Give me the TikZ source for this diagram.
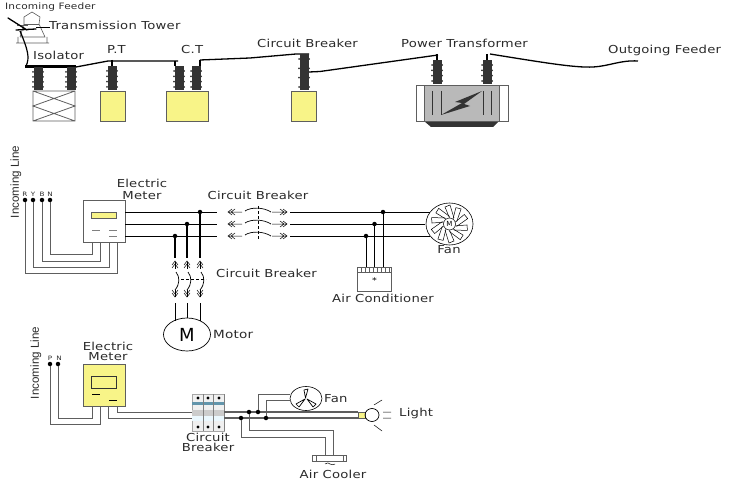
\documentclass[tikz,border=0pt]{standalone}
\usepackage{fontspec}
\usetikzlibrary{shapes.geometric}
\setmainfont[FakeStretch=1.2,LetterSpace=2]{DejaVu Sans}
\newfontfamily\plainf{DejaVu Sans}
\newfontfamily\vertf{Liberation Sans}
\definecolor{yel}{HTML}{F8F488}
\definecolor{dk}{HTML}{333333}
\definecolor{wg}{HTML}{5E5E5E}
\definecolor{txt}{HTML}{2A2A2A}
\tikzset{
 x=1pt,y=-1pt,
 lab/.style={font=\fontsize{11}{12.2}\selectfont,text=txt,inner sep=0pt,align=center},
 tightlab/.style={font=\fontsize{11}{10}\selectfont,text=txt,inner sep=0pt,align=center},
 smlab/.style={font=\fontsize{6}{7}\selectfont,text=txt,inner sep=0pt},
 vlab/.style={font=\vertf\fontsize{11.6}{12}\selectfont,text=txt,inner sep=0pt,rotate=90},
 wire/.style={draw=black,line width=1.3pt},
 gwire/.style={draw=wg,line width=1pt},
 dot/.style={circle,fill=black,inner sep=0pt,minimum size=4.5pt},
 yelbox/.style={draw=wg,fill=yel,line width=.7pt},
 thin grey/.style={draw=wg,line width=.6pt},
}
\newcommand{\insul}[3]{% x centre, y top, y bottom
 \fill[dk] (#1-4.5,#2) rectangle (#1+4.5,#3);
 \foreach \k in {0,1,2,3}{\fill[dk] (#1-5,{#2+5+\k*(#3-#2-8)/3}) circle (1) (#1+5,{#2+5+\k*(#3-#2-8)/3}) circle (1);}
}
\newcommand{\brkH}[3]{% y, x left, x right
 \draw[line width=.5pt] (#2+4,#1-3) -- (#2,#1) -- (#2+4,#1+3) (#2+7,#1-3) -- (#2+3,#1) -- (#2+7,#1+3) (#2,#1) -- (#2+14,#1);
 \draw[line width=.5pt] (#3-4,#1-3) -- (#3,#1) -- (#3-4,#1+3) (#3-7,#1-3) -- (#3-3,#1) -- (#3-7,#1+3) (#3,#1) -- (#3-15,#1);
 \draw[line width=.7pt] (#2+17,#1-1) .. controls (#2+23,#1-5) and (#2+35,#1-5) .. (#2+43,#1);
}
\newcommand{\brkV}[1]{% x
 \draw[line width=.6pt] (#1,262) -- (#1,269) (#1,290) -- (#1,297);
 \draw[line width=.5pt] (#1-3,265) -- (#1,261) -- (#1+3,265) (#1-3,268) -- (#1,264) -- (#1+3,268);
 \draw[line width=.5pt] (#1-3,293) -- (#1,297) -- (#1+3,293) (#1-3,290) -- (#1,294) -- (#1+3,290);
 \draw[line width=.7pt] (#1+1,272) .. controls (#1+5,277) and (#1+5,284) .. (#1,290);
}
\begin{document}
\begin{tikzpicture}
\useasboundingbox (0,0) rectangle (750,500);
% ---------- top section ----------
\draw[thin grey] (16,43) -- (49,43) (18,43) -- (18,37) (47,43) -- (47,37)
 (20,37) -- (24,24) -- (24,17) -- (32,12) -- (40,17) -- (39,24) -- (45,37) -- (20,37);
\draw[thin grey] (24,24) -- (39,24) (17,25) -- (28,25);
\draw[line width=1.3pt,line cap=round] (8,18) -- (27,30) (16,30) -- (36,29);
\draw[line width=1pt] (36,28) -- (50,28);
\draw[line width=1.2pt] (20,31) .. controls (28,50) and (30,58) .. (26,66);
\fill[black] (25,65.5) rectangle (76,68.5);
\insul{38}{67}{90}\insul{71}{67}{90}
\draw[thin grey,line width=.8pt] (33,91) rectangle (75,121) (33,91) -- (75,106) -- (33,121) (75,91) -- (33,106) -- (75,121);
\draw[wire] (76,67) -- (108,61) -- (178,61) (175,61) -- (175,65);
\draw[line width=2pt] (112,60) -- (112,66) (175,61) -- (175,66) (200,60) -- (200,66);
\draw[wire] (200,60) -- (250,58) -- (296,54) -- (309,54);
\insul{112}{66}{90}\insul{179}{66}{90}\insul{196}{66}{90}
\draw[yelbox] (100,91) rectangle (125,121);
\draw[yelbox] (166,91) rectangle (208,121);
\insul{304}{54}{90}
\draw[yelbox] (291,91) rectangle (316,121);
\draw[wire] (309,72) -- (320,71.5) -- (438,55);
\draw[line width=2pt] (437,54) -- (437,60) (487,54) -- (487,60);
\insul{437}{60}{84}\insul{487}{60}{84}
\draw[thin grey,fill=white] (416,85) rectangle (508,121);
\fill[dk] (424,121) -- (499,121) -- (493,127) -- (431,127) -- cycle;
\fill[gray!55!white] (424,85) rectangle (499,121);
\draw[wg,line width=.7pt] (424,85) rectangle (499,121);
\draw[dk,line width=.6pt] (432,91) -- (432,115) (441,91) -- (441,115) (483,91) -- (483,115) (491,91) -- (491,115);
\fill[dk] (482,91) -- (455,102) -- (462,103) -- (441,115) -- (470,106) -- (464,104) -- cycle;
\draw[wire] (490,54) .. controls (540,62) and (575,68) .. (593,67) .. controls (610,66) and (620,60) .. (638,61);
% labels
\node[smlab,anchor=west,font=\fontsize{8.8}{9}\selectfont] (t1) at (5,7) {Incoming Feeder};
\node[lab,anchor=west] (t2) at (49,25) {Transmission Tower};
\node[lab,anchor=west] (t3) at (33,55) {Isolator};
\node[lab,anchor=west] (t4) at (107,49) {P.T};
\node[lab,anchor=west] (t5) at (181,49) {C.T};
\node[lab,anchor=west] (t6) at (257,43) {Circuit Breaker};
\node[lab,anchor=west] (t7) at (401,43) {Power Transformer};
\node[lab,anchor=west] (t8) at (608,50) {Outgoing Feeder};
% ---------- middle section ----------
\node[vlab] (il1) at (16,182) {Incoming Line};
\node[smlab] at (25,194) {R};\node[smlab] at (33,194) {Y};\node[smlab] at (42,194) {B};\node[smlab] at (50,194) {N};
\node[dot] (r) at (25,200) {};\node[dot] (y) at (33,200) {};\node[dot] (b) at (42,200) {};\node[dot] (n) at (50,200) {};
\draw[thin grey,line width=.8pt] (83,200) rectangle (125,242);
\node[yelbox,minimum width=25pt,minimum height=6pt,inner sep=0pt,line width=.6pt] (mtr) at (104,215) {};
\draw[gray,line width=.7pt] (92,230) -- (100,230) (109,230) -- (117,230) (109,236) -- (117,236);
\node[lab] (em1) at (142,189) {Electric\\Meter};
\draw[wg,line width=.8pt] (n) -- (50,254.5) -- (92,254.5) -- (92,243);
\draw[wg,line width=.8pt] (b) -- (42,261) -- (100,261) -- (100,243);
\draw[wg,line width=.8pt] (y) -- (33,267) -- (109,267) -- (109,243);
\draw[wg,line width=.8pt] (r) -- (25,273) -- (117,273) -- (117,243);
% buses
\draw[line width=.9pt] (125,212) -- (217,212) (125,224) -- (217,224) (125,236) -- (217,236);
\draw[line width=.9pt] (290,212) -- (430,212) (290,224) -- (425,224) (290,236) -- (430,236);
\brkH{212}{228}{287}\brkH{224}{228}{287}\brkH{236}{228}{287}
\draw[dash pattern=on 3pt off 2pt,line width=.6pt] (258,206) -- (258,240);
\node[lab] (cb1) at (258,195) {Circuit Breaker};
% drops
\node[dot] (d1) at (175,236) {};\node[dot] (d2) at (187,224) {};\node[dot] (d3) at (200,212) {};
\draw[line width=1.2pt] (d1) -- (175,258) (d2) -- (187,258) (d3) -- (200,258);
\brkV{175}\brkV{187}\brkV{200}
\draw[dash pattern=on 3pt off 2pt,line width=.6pt] (181,279) -- (206,279);
\draw[line width=.9pt] (175,303) -- (175,321) (187,303) -- (187,318) (200,303) -- (200,321);
\node[draw=black,ellipse,line width=.7pt,minimum width=47pt,minimum height=33pt,inner sep=0pt,
      font=\plainf\fontsize{18}{18}\selectfont] (mot) at (187,334.5) {M};
\node[lab,anchor=west,font=\fontsize{11.3}{11}\selectfont] (mt) at (213,334) {Motor};
\node[lab,anchor=west] (cb2) at (216,273) {Circuit Breaker};
% fan
\node[draw=black,ellipse,line width=.6pt,minimum width=47pt,minimum height=42pt,inner sep=0pt] (fan) at (449.5,224) {};
\foreach \a in {0,36,...,324}{
 \draw[line width=.5pt,rotate around={\a:(449.5,224)}] (449.5,218) -- (445,207) -- (450,205) -- (454,218);}
\node[draw=black,circle,fill=white,line width=.5pt,minimum size=12pt,inner sep=0pt,font=\plainf\fontsize{7}{7}\selectfont] (fm) at (449.5,224) {M};
\node[lab] (fn) at (449,250) {Fan};
% air conditioner
\node[dot] (a1) at (366,236) {};\node[dot] (a2) at (374.5,224) {};\node[dot] (a3) at (383,212) {};
\draw[line width=.9pt] (a1) -- (366,267) (a2) -- (374.5,267) (a3) -- (383,267);
\draw[wg,line width=.8pt] (357.5,267) rectangle (391,291);
\draw[wg,line width=.7pt] (357.5,272) -- (391,272);
\foreach \x in {361,365,...,389}{\draw[wg,line width=.5pt] (\x,267) -- (\x,272);}
\node[font=\fontsize{8}{8}\selectfont,inner sep=0pt] (st) at (374.5,281) {*};
\node[lab] (ac) at (383,298) {Air Conditioner};
% ---------- bottom section ----------
\node[vlab] (il2) at (36,363) {Incoming Line};
\node[smlab] (pp) at (50,358) {P};\node[smlab] (pn) at (59,358) {N};
\node[dot] (p) at (50,364) {};\node[dot] (nn) at (58,364) {};
\draw[wg,line width=.8pt,fill=yel] (83,364) rectangle (125,406);
\draw[dk,line width=.7pt] (91,376) rectangle (116,388);
\draw[line width=.7pt] (92,394) -- (100,394) (109,400) -- (117,400);
\node[tightlab] (em2) at (108,351) {Electric\\Meter};
\draw[wg,line width=.8pt] (p) -- (50,424.5) -- (100,424.5) -- (100,406);
\draw[wg,line width=.8pt] (nn) -- (58,418) -- (92,418) -- (92,406);
\draw[wg,line width=.8pt] (108,406) -- (108,418) -- (193,418);
\draw[wg,line width=.8pt] (117,406) -- (117,412) -- (193,412);
% circuit breaker module
\fill[gray!12] (192,394) rectangle (224,431);
\draw[gray!70,line width=.5pt] (192,394) rectangle (224,431);
\fill[cyan!55!black!80] (192,402) rectangle (224,405);
\fill[gray!40] (192,410) rectangle (224,416);
\fill[cyan!8] (192,416) rectangle (224,421);
\foreach \x in {198,208,219}{\fill[black] (\x,398) circle (1.7) (\x,427) circle (1.7);
  \draw[gray,line width=.3pt] (\x+5,394) -- (\x+5,431);}
\node[tightlab] (cb3) at (208,442) {Circuit\\Breaker};
\draw[gwire,line width=1.1pt] (224,412) -- (358,412) (224,418) -- (358,418);
\node[dot] (j1) at (241,418) {};\node[dot] (j2) at (249,412) {};\node[dot] (j3) at (258,412) {};\node[dot] (j4) at (266,418) {};
\node[draw=black,ellipse,line width=.6pt,minimum width=32pt,minimum height=24pt,inner sep=0pt] (fb) at (306,398.5) {};
\draw[gwire] (j3) -- (258,394) -- (290,394) (j4) -- (266,400) -- (291,400);
\draw[gwire] (j2) -- (249,430) -- (333,430) -- (333,455) (j1) -- (241,437) -- (325,437) -- (325,455);
\draw[line width=.7pt,line join=round] (305.5,398) -- (304,390) -- (308,389) -- cycle
  (305,399) -- (296,404) -- (299,407) -- cycle
  (307,399) -- (316,404) -- (313,407) -- cycle;
\node[lab,anchor=west] (ft) at (324,399) {Fan};
% light
\draw[wg,fill=yel,line width=.6pt] (358,412) rectangle (365,418);
\node[draw=black,ellipse,line width=.7pt,minimum width=14pt,minimum height=13pt,inner sep=0pt] (lamp) at (372,415) {};
\draw[line width=.5pt] (374,405) -- (382,400) (374,425) -- (382,431) (383,412) -- (391,412) (383,418) -- (391,418);
\node[lab,anchor=west] (lt) at (399,413) {Light};
% air cooler
\draw[wg,line width=.8pt] (312,455) rectangle (346,461);
\draw[wg,line width=.7pt] (316,455) -- (316,461) (343,455) -- (343,461);
\draw[line width=.5pt] (325,464) .. controls (327,462) and (329,463) .. (330,464) .. controls (332,465) and (334,465) .. (335,464);
\node[lab] (ct) at (333,474) {Air Cooler};
\end{tikzpicture}
\end{document}
